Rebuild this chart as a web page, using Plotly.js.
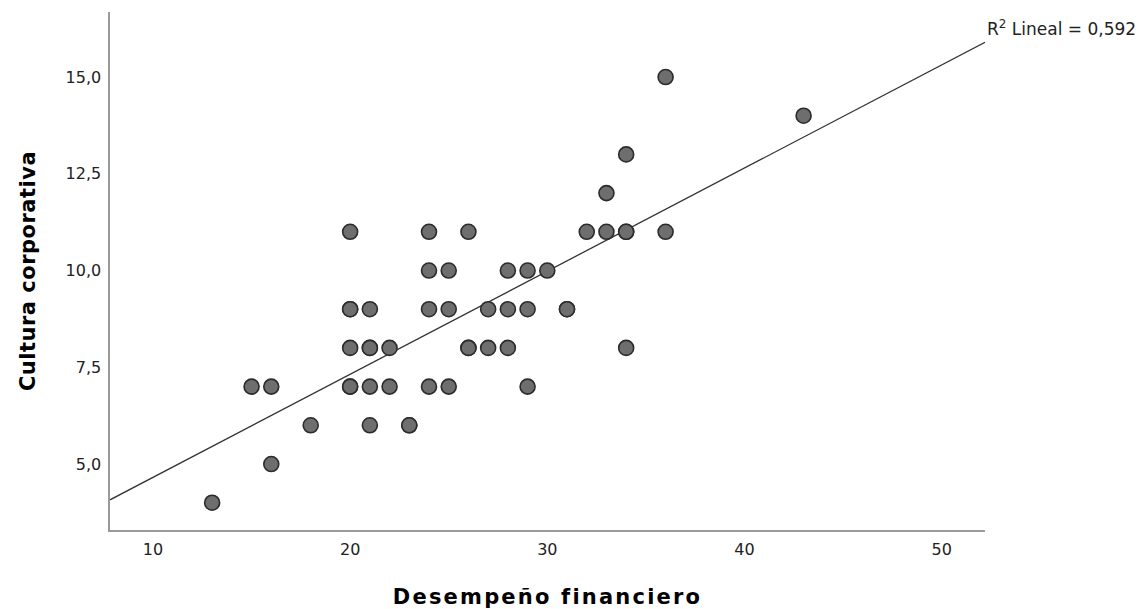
<!DOCTYPE html>
<html>
<head>
<meta charset="utf-8">
<script src="https://cdn.plot.ly/plotly-3.0.1.min.js"></script>
<style>
html,body{margin:0;padding:0;background:#fff;}
#chart{width:1146px;height:609px;}
#chart text.xtitle{letter-spacing:2.2px;}
#chart text.ytitle{letter-spacing:0.5px;}
</style>
</head>
<body>
<div id="chart"></div>
<script>
// Desempeño financiero (x) and Cultura corporativa (y); repeated pairs are overlapping cases
const desempeno = [13,16,18,21,23,23,15,16,20,20,21,22,24,25,29,20,21,21,22,26,26,27,28,34,20,20,21,24,25,27,28,29,31,31,24,25,28,29,30,20,24,26,32,33,34,34,36,33,34,43,36];
const cultura   = [4, 5, 6, 6, 6, 6, 7, 7, 7, 7, 7, 7, 7, 7, 7, 8, 8, 8, 8, 8, 8, 8, 8, 8, 9, 9, 9, 9, 9, 9, 9, 9, 9, 9, 10,10,10,10,10,11,11,11,11,11,11,11,11,12,13,14,15];
const xTickVals = [10,20,30,40,50];
const xTickText = ['10','20','30','40','50'];
const yTickVals = [5,7.5,10,12.5,15];
const yTickText = ['5,0','7,5','10,0','12,5','15,0'];
const r2Label = 'R<sup>2</sup> Lineal = 0,592';
const xRange = [7.82, 52.2];
const yRange = [3.295, 16.68];

// ordinary least squares fit from the data
const n = desempeno.length;
const mx = desempeno.reduce((a,b)=>a+b,0)/n;
const my = cultura.reduce((a,b)=>a+b,0)/n;
let sxy = 0, sxx = 0;
for (let i=0;i<n;i++){ sxy += (desempeno[i]-mx)*(cultura[i]-my); sxx += (desempeno[i]-mx)**2; }
const slope = sxy/sxx, intercept = my - slope*mx;
const fitX = xRange.slice();
const fitY = fitX.map(x => intercept + slope*x);

const font = 'DejaVu Sans, Liberation Sans, Arial, sans-serif';
const traces = [
  {x: fitX, y: fitY, mode: 'lines', line: {color: '#333333', width: 1.3}, hoverinfo: 'skip', showlegend: false},
  {x: desempeno, y: cultura, mode: 'markers', showlegend: false,
   marker: {size: 15, color: '#6e6e6e', line: {color: '#2b2b2b', width: 1.6}}}
];
const layout = {
  width: 1146, height: 609,
  margin: {l: 110, r: 161, t: 12, b: 79},
  paper_bgcolor: '#ffffff', plot_bgcolor: '#ffffff',
  font: {family: font, size: 16, color: '#222'},
  xaxis: {range: xRange, tickvals: xTickVals, ticktext: xTickText, showgrid: false, zeroline: false,
          showline: true, linecolor: '#9a9a9a', linewidth: 1.6, ticks: '', ticklabelstandoff: 4,
          tickfont: {family: font, size: 16, color: '#222'},
          title: {text: 'Desempeño financiero', font: {family: font, size: 21, color: '#000', weight: 'bold'}, standoff: 36}},
  yaxis: {range: yRange, tickvals: yTickVals, ticktext: yTickText, showgrid: false, zeroline: false,
          showline: true, linecolor: '#9a9a9a', linewidth: 1.6, ticks: '', ticklabelstandoff: 4,
          tickfont: {family: font, size: 16, color: '#222'},
          title: {text: 'Cultura corporativa', font: {family: font, size: 21, color: '#000', weight: 'bold'}, standoff: 24}},
  annotations: [{x: fitX[1], y: fitY[1], xref: 'x', yref: 'y', text: r2Label, showarrow: false,
                 xanchor: 'left', yanchor: 'bottom', xshift: 0, yshift: 1,
                 font: {family: font, size: 17, color: '#222'}}]
};
Plotly.newPlot('chart', traces, layout, {displayModeBar: false, staticPlot: true});
</script>
</body>
</html>
